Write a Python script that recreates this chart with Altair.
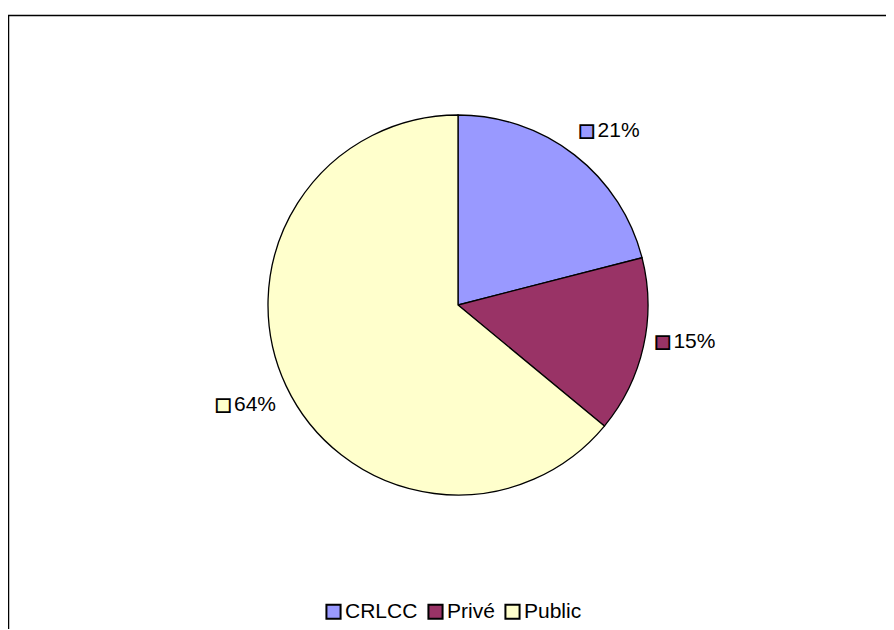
import altair as alt
import pandas as pd

categories = ["CRLCC", "Privé", "Public"]
values = [21, 15, 64]
labels = ["21%", "15%", "64%"]
colors = ["#9999FF", "#993366", "#FFFFCC"]

df = pd.DataFrame({
    "cat": categories,
    "value": values,
    "label": labels,
    "idx": list(range(len(categories))),
    "box": ["■"] * len(categories),
})

FONT = "Liberation Sans"

color = alt.Color(
    "cat:N",
    scale=alt.Scale(domain=categories, range=colors),
    sort=categories,
    legend=alt.Legend(
        title=None,
        orient="none",
        direction="horizontal",
        legendX=315,
        legendY=586,
        symbolType="square",
        symbolSize=200,
        symbolStrokeColor="black",
        symbolStrokeWidth=2,
        symbolOpacity=1,
        labelFont=FONT,
        labelFontSize=21,
        labelColor="black",
        labelOffset=1,
        columnPadding=6,
    ),
)

frame = alt.Chart(pd.DataFrame({"f": [0]})).mark_rect(
    fill=None, stroke="black", strokeWidth=1.5
).encode(
    x=alt.value(0.5), x2=alt.value(2000), y=alt.value(0.5), y2=alt.value(2000)
)

base = alt.Chart(df).encode(
    theta=alt.Theta("value:Q", stack=True),
    order=alt.Order("idx:Q"),
)

pie = base.mark_arc(stroke="black", strokeWidth=1.3, opacity=1).encode(
    color=color,
    x=alt.value(450),
    y=alt.value(290),
    radius=alt.value(190),
)

# small placement nudges for the outside labels (Excel-like placement)
nudges = {"CRLCC": (10, 9), "Privé": (2, -13), "Public": (-3, 2)}

label_layers = []
for cat in categories:
    nx, ny = nudges[cat]
    txt = base.mark_text(font=FONT, fontSize=21, color="black", dx=9 + nx, dy=ny).encode(
        text="label:N",
        x=alt.value(450),
        y=alt.value(290),
        radius=alt.value(231),
        opacity=alt.condition(alt.datum.cat == cat, alt.value(1), alt.value(0)),
    )
    box = base.mark_text(font="DejaVu Sans", fontSize=17, stroke="black", strokeWidth=1.8,
                         dx=-23 + nx, dy=ny).encode(
        text="box:N",
        color=alt.Color("cat:N", scale=alt.Scale(domain=categories, range=colors), legend=None),
        x=alt.value(450),
        y=alt.value(290),
        radius=alt.value(231),
        opacity=alt.condition(alt.datum.cat == cat, alt.value(1), alt.value(0)),
    )
    label_layers += [txt, box]

chart = alt.layer(frame, pie, *label_layers).properties(
    width=878,
    height=614,
    autosize=alt.AutoSizeParams(type="none"),
    padding={"left": 0, "top": 7, "right": 0, "bottom": 0},
).configure(background="white").configure_view(stroke=None)

chart.save("out.html", embed_options={"renderer": "svg", "actions": False})
